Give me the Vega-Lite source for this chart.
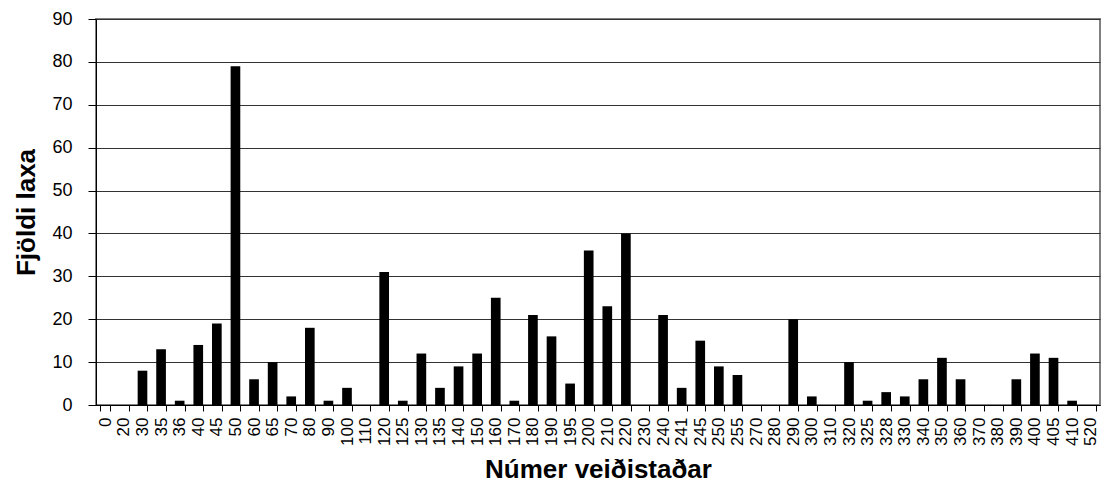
{
  "$schema": "https://vega.github.io/schema/vega-lite/v6.json",
  "width": 1004,
  "height": 386,
  "autosize": {"type": "none"},
  "padding": {"left": 96, "top": 19, "right": 8, "bottom": 83},
  "background": "white",
  "config": {
    "font": "Liberation Sans",
    "view": {"stroke": "#808080", "strokeWidth": 2}
  },
  "data": {
    "values": [
      {"stadur": "0", "fjoldi": 0}, {"stadur": "20", "fjoldi": 0}, {"stadur": "30", "fjoldi": 8},
      {"stadur": "35", "fjoldi": 13}, {"stadur": "36", "fjoldi": 1}, {"stadur": "40", "fjoldi": 14},
      {"stadur": "45", "fjoldi": 19}, {"stadur": "50", "fjoldi": 79}, {"stadur": "60", "fjoldi": 6},
      {"stadur": "65", "fjoldi": 10}, {"stadur": "70", "fjoldi": 2}, {"stadur": "80", "fjoldi": 18},
      {"stadur": "90", "fjoldi": 1}, {"stadur": "100", "fjoldi": 4}, {"stadur": "110", "fjoldi": 0},
      {"stadur": "120", "fjoldi": 31}, {"stadur": "125", "fjoldi": 1}, {"stadur": "130", "fjoldi": 12},
      {"stadur": "135", "fjoldi": 4}, {"stadur": "140", "fjoldi": 9}, {"stadur": "150", "fjoldi": 12},
      {"stadur": "160", "fjoldi": 25}, {"stadur": "170", "fjoldi": 1}, {"stadur": "180", "fjoldi": 21},
      {"stadur": "190", "fjoldi": 16}, {"stadur": "195", "fjoldi": 5}, {"stadur": "200", "fjoldi": 36},
      {"stadur": "210", "fjoldi": 23}, {"stadur": "220", "fjoldi": 40}, {"stadur": "230", "fjoldi": 0},
      {"stadur": "240", "fjoldi": 21}, {"stadur": "241", "fjoldi": 4}, {"stadur": "245", "fjoldi": 15},
      {"stadur": "250", "fjoldi": 9}, {"stadur": "255", "fjoldi": 7}, {"stadur": "270", "fjoldi": 0},
      {"stadur": "280", "fjoldi": 0}, {"stadur": "290", "fjoldi": 20}, {"stadur": "300", "fjoldi": 2},
      {"stadur": "310", "fjoldi": 0}, {"stadur": "320", "fjoldi": 10}, {"stadur": "325", "fjoldi": 1},
      {"stadur": "328", "fjoldi": 3}, {"stadur": "330", "fjoldi": 2}, {"stadur": "340", "fjoldi": 6},
      {"stadur": "350", "fjoldi": 11}, {"stadur": "360", "fjoldi": 6}, {"stadur": "370", "fjoldi": 0},
      {"stadur": "380", "fjoldi": 0}, {"stadur": "390", "fjoldi": 6}, {"stadur": "400", "fjoldi": 12},
      {"stadur": "405", "fjoldi": 11}, {"stadur": "410", "fjoldi": 1}, {"stadur": "520", "fjoldi": 0}
    ]
  },
  "mark": {"type": "bar", "color": "black"},
  "encoding": {
    "x": {
      "field": "stadur",
      "type": "ordinal",
      "sort": null,
      "scale": {"paddingInner": 0.48, "paddingOuter": 0.24},
      "axis": {
        "title": "Númer veiðistaðar",
        "titleFont": "Liberation Sans",
        "titleFontSize": 26,
        "titleFontWeight": "bold",
        "titleColor": "black",
        "titlePadding": 11,
        "labelAngle": 270,
        "labelFontSize": 17,
        "labelColor": "black",
        "labelPadding": 6,
        "domainColor": "black",
        "domainWidth": 1,
        "tickColor": "black",
        "tickBand": "extent",
        "tickSize": 6,
        "grid": false
      }
    },
    "y": {
      "field": "fjoldi",
      "type": "quantitative",
      "scale": {"domain": [0, 90], "nice": false},
      "axis": {
        "title": "Fjöldi laxa",
        "titleFont": "Liberation Sans",
        "titleFontSize": 26,
        "titleFontWeight": "bold",
        "titleColor": "black",
        "titlePadding": 12,
        "values": [0, 10, 20, 30, 40, 50, 60, 70, 80, 90],
        "labelFontSize": 18,
        "labelColor": "black",
        "labelPadding": 16,
        "domainColor": "black",
        "tickColor": "black",
        "tickSize": 8,
        "grid": true,
        "gridColor": "#333333",
        "gridWidth": 1
      }
    }
  }
}
